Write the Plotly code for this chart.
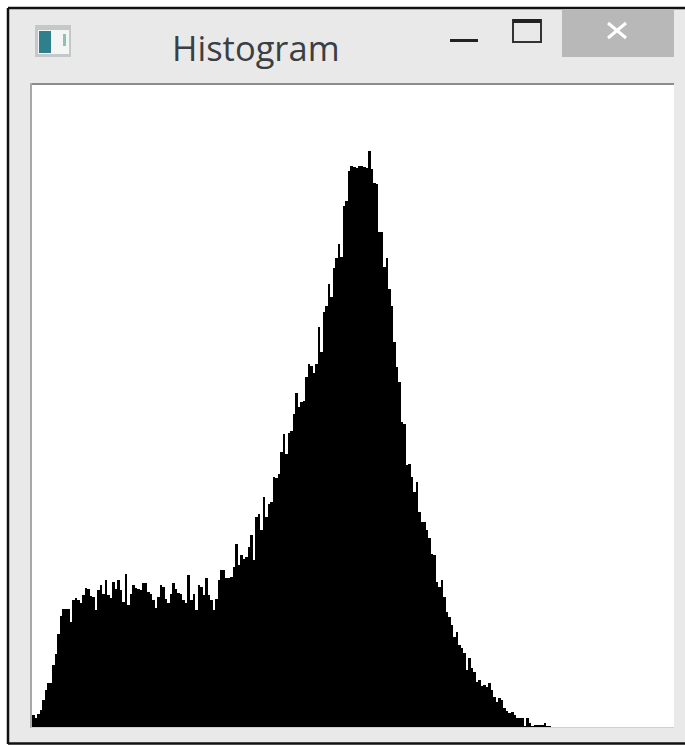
import plotly.graph_objects as go

window_title = "Histogram"
counts = [
    12, 9, 13, 17, 27, 37, 44, 44, 62, 73, 93, 111, 118, 118, 118, 105,
    127, 129, 127, 124, 132, 139, 138, 131, 130, 117, 137, 142, 133, 147, 132, 129,
    145, 138, 147, 137, 125, 153, 122, 133, 142, 139, 138, 137, 144, 144, 135, 133,
    127, 119, 130, 142, 140, 128, 124, 133, 144, 138, 134, 133, 127, 124, 152, 127,
    133, 117, 142, 140, 132, 149, 132, 127, 117, 128, 147, 157, 157, 149, 149, 150,
    160, 183, 162, 172, 168, 170, 180, 192, 167, 210, 213, 197, 230, 210, 223, 225,
    250, 249, 253, 275, 293, 273, 294, 296, 313, 334, 320, 325, 326, 350, 363, 361,
    354, 363, 400, 375, 415, 421, 443, 430, 459, 469, 483, 470, 521, 526, 556, 561,
    560, 559, 561, 561, 560, 559, 576, 558, 544, 543, 495, 495, 460, 469, 438, 421,
    385, 360, 345, 305, 303, 262, 263, 250, 235, 245, 215, 205, 205, 197, 189, 173,
    172, 145, 140, 147, 130, 115, 110, 102, 90, 95, 82, 79, 74, 57, 69, 59,
    55, 45, 47, 41, 42, 40, 44, 37, 30, 25, 29, 27, 19, 16, 14, 15,
    12, 9, 9, 9, 1, 9, 4, 1, 2, 2, 2, 2, 4, 1, 1, 0,
] + [0] * 48
levels = list(range(len(counts)))

W, H = 685, 745
L, R, T, B = 32, 674, 85, 727


def px(x):
    return (x - L) / (R - L)


def py(y):
    return (B - y) / (B - T)


def rect(x0, y0, x1, y1, fill, line=None, lw=0):
    return dict(type="rect", xref="paper", yref="paper", layer="below",
                x0=px(x0), x1=px(x1), y0=py(y0), y1=py(y1), fillcolor=fill,
                line=dict(color=line or fill, width=lw))


def seg(x0, y0, x1, y1, color, lw):
    return dict(type="line", xref="paper", yref="paper", layer="below",
                x0=px(x0), x1=px(x1), y0=py(y0), y1=py(y1),
                line=dict(color=color, width=lw))


shapes = [
    rect(8, 8, 685, 743, "#e9e9e9"),
    seg(0 + 8, 8, 685, 8, "#111111", 2.5),
    seg(8, 8, 8, 744, "#111111", 2.5),
    seg(8, 743.5, 685, 743.5, "#111111", 2.5),
    rect(32, 85, 674, 727, "#ffffff"),
    seg(31, 84, 674, 84, "#8c8c8c", 2),
    seg(31, 83, 31, 728, "#a8a8a8", 2),
    seg(31, 727.5, 674, 727.5, "#d0d0d0", 1),
    # window icon
    rect(35, 25, 71, 57, "#c4c8c8"),
    rect(38, 30, 69, 54, "#f4f6f6"),
    rect(39, 31, 51, 53, "#2f7f8c"),
    rect(63, 34, 66, 46, "#8fc0b0"),
    # minimise
    seg(450, 40.5, 478, 40.5, "#222222", 3),
    # maximise
    rect(513, 20, 541, 42, "#e9e9e9", "#333333", 2),
    seg(513, 21, 541, 21, "#222222", 4),
    # close
    rect(562, 9, 674, 57, "#b8b8b8"),
    seg(608, 23, 626, 38, "#ffffff", 3),
    seg(626, 23, 608, 38, "#ffffff", 3),
]

fig = go.Figure(go.Bar(x=levels, y=counts, width=1,
                       marker=dict(color="#000000", line=dict(width=0)),
                       hoverinfo="skip"))
fig.update_layout(
    width=W, height=H, autosize=False, showlegend=False,
    margin=dict(l=L, r=W - R, t=T, b=H - B, pad=0),
    paper_bgcolor="#ffffff", plot_bgcolor="rgba(0,0,0,0)",
    bargap=0, shapes=shapes,
    xaxis=dict(visible=False, range=[-0.5, 255.5], fixedrange=True),
    yaxis=dict(visible=False, range=[0, B - T], fixedrange=True),
    annotations=[dict(text=window_title, xref="paper", yref="paper",
                      x=px(170), y=py(47), xanchor="left", yanchor="middle",
                      showarrow=False,
                      font=dict(family="Open Sans", size=34.5, color="#3a3f44"))],
)
fig.write_html("out.html", config=dict(displayModeBar=False),
               post_script="document.body.style.margin='0';document.documentElement.style.overflow='hidden';window.dispatchEvent(new Event('resize'));")
